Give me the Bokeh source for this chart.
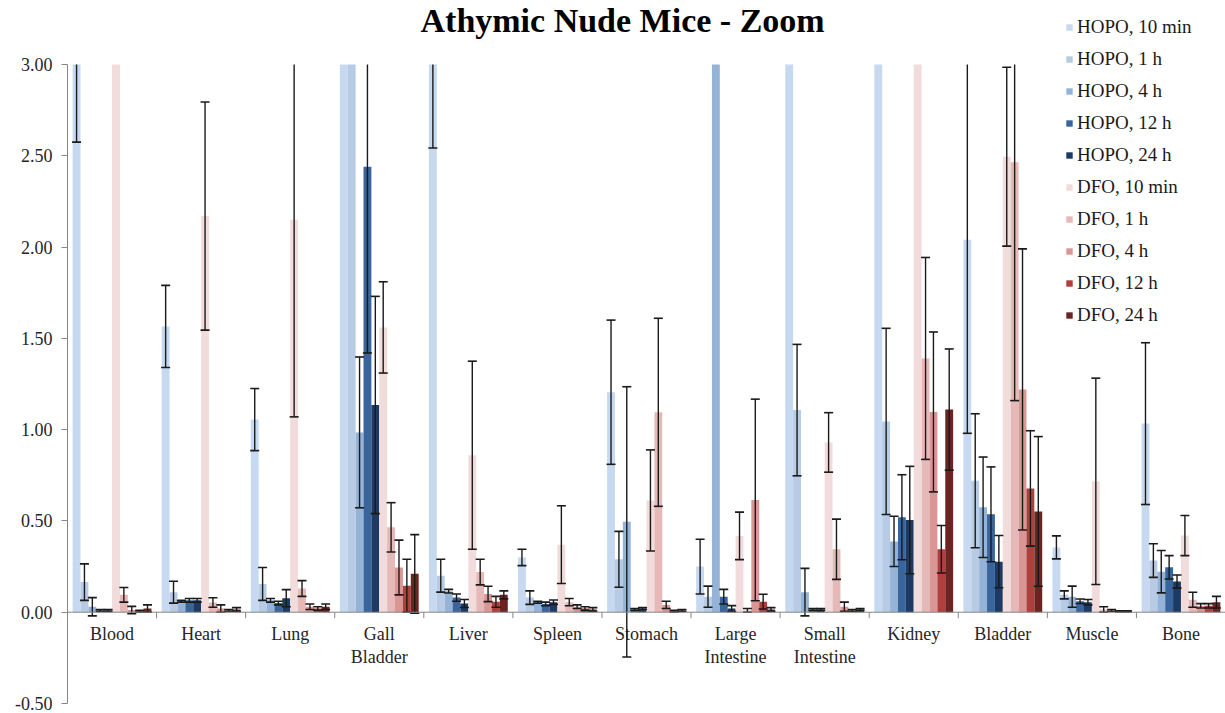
from bokeh.plotting import figure
from bokeh.models import (FixedTicker, NumeralTickFormatter, Legend, LegendItem, Range1d,
                          Span, Label)
from bokeh.core.properties import value
from bokeh.embed import file_html
from bokeh.resources import INLINE

# Organ categories along the x axis
categories = ["Blood", "Heart", "Lung", "Gall\nBladder", "Liver", "Spleen", "Stomach",
              "Large\nIntestine", "Small\nIntestine", "Kidney", "Bladder", "Muscle", "Bone"]

series_names = ["HOPO, 10 min", "HOPO, 1 h", "HOPO, 4 h", "HOPO, 12 h", "HOPO, 24 h",
                "DFO, 10 min", "DFO, 1 h", "DFO, 4 h", "DFO, 12 h", "DFO, 24 h"]

# Mean uptake per organ (%ID/g) and standard deviations
hopo_10min = [3.40, 1.565, 1.055, 4.60, 3.60, 0.30, 1.205, 0.25, 4.00, 4.10, 2.04, 0.355, 1.033]
hopo_10min_sd = [0.825, 0.225, 0.17, 1.20, 1.057, 0.045, 0.395, 0.15, 0.80, 0.90, 1.06, 0.063, 0.443]
hopo_1h = [0.165, 0.11, 0.155, 3.80, 0.20, 0.08, 0.29, 0.085, 1.107, 1.045, 0.72, 0.095, 0.283]
hopo_1h_sd = [0.10, 0.06, 0.09, 0.50, 0.09, 0.037, 0.153, 0.058, 0.36, 0.51, 0.367, 0.022, 0.092]
hopo_4h = [0.03, 0.06, 0.065, 0.985, 0.115, 0.055, 0.495, 4.50, 0.11, 0.388, 0.575, 0.085, 0.222]
hopo_4h_sd = [0.05, 0.005, 0.01, 0.413, 0.01, 0.005, 0.74, 1.20, 0.13, 0.138, 0.275, 0.058, 0.116]
hopo_12h = [0.01, 0.065, 0.05, 2.44, 0.08, 0.045, 0.015, 0.085, 0.015, 0.52, 0.536, 0.06, 0.246]
hopo_12h_sd = [0.005, 0.01, 0.01, 1.02, 0.02, 0.01, 0.005, 0.04, 0.005, 0.233, 0.26, 0.012, 0.064]
hopo_24h = [0.01, 0.065, 0.077, 1.135, 0.048, 0.055, 0.02, 0.02, 0.015, 0.505, 0.277, 0.055, 0.168]
hopo_24h_sd = [0.005, 0.01, 0.047, 0.595, 0.022, 0.012, 0.005, 0.016, 0.005, 0.294, 0.143, 0.015, 0.036]
dfo_10min = [3.90, 2.17, 2.15, 1.56, 0.86, 0.37, 0.612, 0.418, 0.93, 4.40, 2.495, 0.717, 0.42]
dfo_10min_sd = [0.60, 0.625, 1.08, 0.25, 0.515, 0.213, 0.277, 0.13, 0.163, 1.10, 0.49, 0.565, 0.11]
dfo_1h = [0.095, 0.053, 0.13, 0.465, 0.22, 0.055, 1.095, 0.01, 0.345, 1.39, 2.465, 0.015, 0.068]
dfo_1h_sd = [0.04, 0.026, 0.043, 0.135, 0.07, 0.02, 0.515, 0.01, 0.165, 0.553, 1.306, 0.015, 0.041]
dfo_4h = [0.012, 0.02, 0.03, 0.245, 0.10, 0.03, 0.04, 0.615, 0.03, 1.097, 1.22, 0.01, 0.035]
dfo_4h_sd = [0.02, 0.02, 0.015, 0.15, 0.042, 0.01, 0.02, 0.552, 0.025, 0.438, 0.77, 0.005, 0.012]
dfo_12h = [0.005, 0.01, 0.02, 0.145, 0.057, 0.02, 0.005, 0.058, 0.01, 0.345, 0.678, 0.005, 0.035]
dfo_12h_sd = [0.005, 0.005, 0.01, 0.145, 0.03, 0.01, 0.005, 0.04, 0.005, 0.13, 0.316, 0.003, 0.012]
dfo_24h = [0.02, 0.015, 0.03, 0.21, 0.095, 0.015, 0.01, 0.015, 0.015, 1.11, 0.552, 0.005, 0.055]
dfo_24h_sd = [0.02, 0.01, 0.015, 0.215, 0.022, 0.01, 0.005, 0.01, 0.005, 0.332, 0.41, 0.003, 0.032]

y_ticks = [-0.5, 0.0, 0.5, 1.0, 1.5, 2.0, 2.5, 3.0]
Y_MIN, Y_MAX = -0.5, 3.0

means = [hopo_10min, hopo_1h, hopo_4h, hopo_12h, hopo_24h,
         dfo_10min, dfo_1h, dfo_4h, dfo_12h, dfo_24h]
sds = [hopo_10min_sd, hopo_1h_sd, hopo_4h_sd, hopo_12h_sd, hopo_24h_sd,
       dfo_10min_sd, dfo_1h_sd, dfo_4h_sd, dfo_12h_sd, dfo_24h_sd]
colors = ["#c6d9f1", "#b7cbe4", "#95b3d7", "#3a659c", "#1c3a63",
          "#f2dcdb", "#e6b9b8", "#d99694", "#ad3f3c", "#6a2523"]

n_cat = len(categories)
n_ser = len(series_names)
BAR_W = 0.0885

# The plotting frame runs nearly to the top of the canvas so the legend and
# title can sit over it; the value axis itself stops at Y_MAX, and bars and
# error bars that run past it are cut off there.
H, BOTTOM, TOP, AXIS_TOP_PX = 713, 10, 6, 64
px_per_unit = (H - BOTTOM - AXIS_TOP_PX) / (Y_MAX - Y_MIN)
y_top = Y_MAX + (AXIS_TOP_PX - TOP) / px_per_unit


def cut(v):
    return min(v, Y_MAX)


p = figure(width=1225, height=H, x_range=Range1d(0, n_cat), y_range=Range1d(Y_MIN, y_top),
           output_backend="svg", toolbar_location=None,
           min_border_left=67, min_border_right=0, min_border_top=TOP, min_border_bottom=BOTTOM)
p.outline_line_color = None
p.xgrid.visible = False
p.ygrid.visible = False
p.xaxis.visible = False

# y axis
p.yaxis.bounds = (Y_MIN, Y_MAX)
p.yaxis.ticker = FixedTicker(ticks=y_ticks)
p.yaxis.formatter = NumeralTickFormatter(format="0.00")
p.yaxis.axis_line_color = "#868686"
p.yaxis.major_tick_line_color = "#868686"
p.yaxis.major_tick_out = 6
p.yaxis.major_tick_in = 0
p.yaxis.minor_tick_line_color = None
p.yaxis.major_label_text_font = "Liberation Serif"
p.yaxis.major_label_text_font_size = "18px"
p.yaxis.major_label_text_color = "#262626"
p.yaxis.major_label_standoff = 9

renderers = []
err_x, err_lo, err_hi = [], [], []
for j in range(n_ser):
    xs = [i + 0.5 + (j - (n_ser - 1) / 2) * BAR_W for i in range(n_cat)]
    r = p.vbar(x=xs, top=[cut(v) for v in means[j]], bottom=0, width=BAR_W,
               fill_color=colors[j], line_color=None)
    renderers.append(r)
    for i in range(n_cat):
        err_x.append(xs[i])
        err_lo.append(means[j][i] - sds[j][i])
        err_hi.append(means[j][i] + sds[j][i])

# horizontal axis line on zero with ticks at the category boundaries
tick_len = 6 / px_per_unit
bounds_x = list(range(n_cat + 1))
p.segment(x0=bounds_x, y0=[0] * len(bounds_x), x1=bounds_x, y1=[-tick_len] * len(bounds_x),
          line_color="#868686", line_width=1)
p.add_layout(Span(location=0, dimension="width", line_color="#868686", line_width=1))

# error bars: stems, plus end caps for the ends that fall inside the axis range
p.segment(x0=err_x, y0=[cut(v) for v in err_lo], x1=err_x, y1=[cut(v) for v in err_hi],
          line_color="#1a1a1a", line_width=1.4)
cap_x, cap_y = [], []
for x, lo, hi in zip(err_x, err_lo, err_hi):
    for y in (lo, hi):
        if Y_MIN <= y <= Y_MAX:
            cap_x.append(x)
            cap_y.append(y)
p.scatter(x=cap_x, y=cap_y, marker="dash", size=9, line_color="#1a1a1a", line_width=1.6)

# category labels under the zero line
p.text(x=[i + 0.5 for i in range(n_cat)], y=[0] * n_cat, text=categories,
       text_font=value("Liberation Serif"), text_font_size="18px", text_line_height=1.15,
       text_align="center", text_baseline="top", y_offset=12, text_color="#262626")

legend = Legend(items=[LegendItem(label=series_names[j], renderers=[renderers[j]]) for j in range(n_ser)],
                location=(998, 377), orientation="vertical",
                glyph_width=8, glyph_height=8, label_standoff=4, spacing=10, label_height=21,
                padding=0, margin=0,
                label_text_font="Liberation Serif", label_text_font_size="19px",
                label_text_color="#1a1a1a",
                background_fill_alpha=0, border_line_alpha=0)
p.add_layout(legend)

p.add_layout(Label(text="Athymic Nude Mice - Zoom", x=353, y=H - BOTTOM - 20,
                   x_units="screen", y_units="screen",
                   text_font="Liberation Serif", text_font_size="34px", text_font_style="bold",
                   text_color="#000000", text_align="left", text_baseline="alphabetic"))

open("out.html", "w").write(file_html(p, INLINE))
